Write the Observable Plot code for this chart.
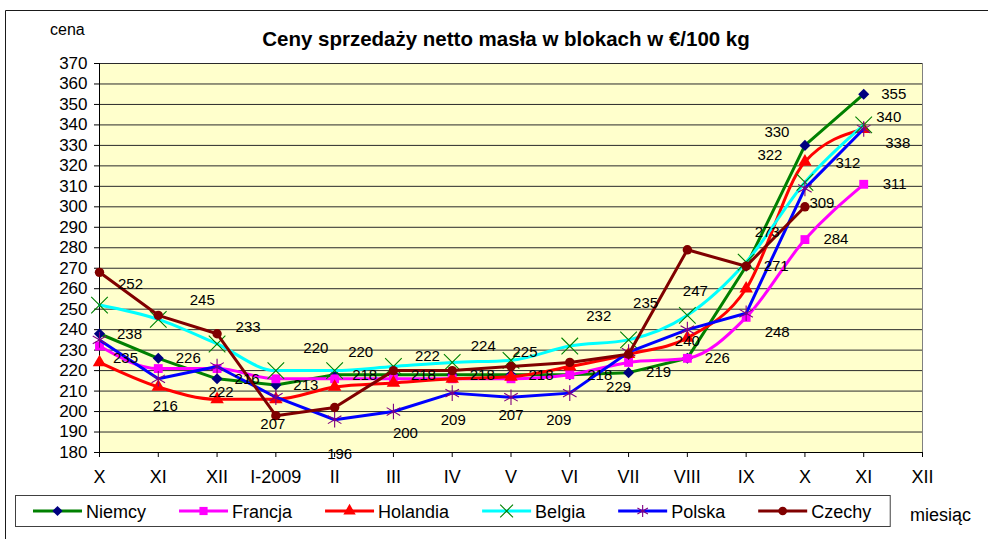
<!DOCTYPE html>
<html>
<head>
<meta charset="utf-8">
<script src="https://cdn.jsdelivr.net/npm/d3@7"></script>
<script src="https://cdn.jsdelivr.net/npm/@observablehq/plot@0.6"></script>
<style>
  body { margin: 0; background: #ffffff; }
  #chart svg { display: block; }
</style>
</head>
<body>
<div id="chart"></div>
<script>
// ---- data ----
const monthLabels = ["X", "XI", "XII", "I-2009", "II", "III", "IV", "V", "VI", "VII", "VIII", "IX", "X", "XI", "XII"];
const yTicks = [180, 190, 200, 210, 220, 230, 240, 250, 260, 270, 280, 290, 300, 310, 320, 330, 340, 350, 360, 370];

const niemcy   = [238, 226, 216, 213, 218, 218, 218, 218, 218, 219, 226, 271, 330, 355];
const francja  = [232, 221, 221, 216, 216, 216, 216, 216, 218, 224, 226, 246, 284, 311];
const holandia = [224, 212, 206, 206, 212, 214, 216, 217, 222, 228, 236, 260, 322, 338];
const belgia   = [252, 245, 233, 220, 220, 222, 224, 225, 232, 235, 247, 273, 312, 340];
const polska   = [235, 216, 222, 207, 196, 200, 209, 207, 209, 229, 240, 248, 309, 338];
const czechy   = [268, 247, 238, 198, 202, 220, 220, 222, 224, 228, 279, 271, 300];

const seriesNames = ["Niemcy", "Francja", "Holandia", "Belgia", "Polska", "Czechy"];
const seriesValues = [niemcy, francja, holandia, belgia, polska, czechy];
// which points carry a value label (indices into the month list)
const labelledPoints = {
  Niemcy: niemcy.map((_, i) => i),
  Belgia: belgia.map((_, i) => i),
  Polska: polska.map((_, i) => i),
  Francja: [12, 13],
  Holandia: [12]
};

// ---- styles ----
const FONT = "'Liberation Sans', Arial, sans-serif";
const style = {
  Niemcy:   {line: "#008000", symbol: "diamond2", r: 5.0, fill: "#000080", stroke: "none", curve: "linear"},
  Francja:  {line: "#FF00FF", symbol: "square",   r: 5.0, fill: "#FF00FF", stroke: "none", curve: "monotone-x"},
  Holandia: {line: "#FF0000", symbol: "triangle", r: 5.0, fill: "#FF0000", stroke: "none", curve: "monotone-x"},
  Belgia:   {line: "#00FFFF", symbol: "times",    r: 7.6, fill: "none", stroke: "#008000", curve: "monotone-x"},
  Polska:   {line: "#0000FF", symbol: "asterisk", r: 7.4, fill: "none", stroke: "#800080", curve: "linear"},
  Czechy:   {line: "#800000", symbol: "circle",   r: 4.7, fill: "#800000", stroke: "none", curve: "linear"}
};
// label placement relative to its point, in pixels [dx, dy]
const labelPlacement = {
  Niemcy: i => (i === 12 ? [-28, -13] : [30, 0]),
  Francja: () => [31, 0],
  Holandia: () => [-35, -7],
  Belgia: i => [[31,-21],[44,-19],[31,-17],[40,-22],[26,-18],[34,-10],[31,-16],[14,-8],[29,-30],[17,-37],[8,-24],[21,-30],[43,-19],[25,-8]][i],
  Polska: i => [[26,18],[7,27],[4,26],[-3,27],[5,34],[12,22],[1,27],[0,18],[-11,27],[-10,35],[0,12],[31,19],[17,15],[34,14]][i]
};

// ---- tables ----
const rows = seriesNames.flatMap((s, k) => seriesValues[k].map((v, i) => ({series: s, i, v})));
const labelRows = rows.filter(d => labelledPoints[d.series] && labelledPoints[d.series].includes(d.i));

const marks = [
  Plot.frame({fill: "#FFFFCC", stroke: "none"}),
  Plot.ruleY(yTicks, {y: d => d, stroke: "#2a2a2a", strokeWidth: 1}),
  Plot.ruleX([14], {stroke: "#808080", strokeWidth: 1}),
  Plot.ruleX([0], {stroke: "#000", strokeWidth: 1}),
  Plot.ruleY([180], {stroke: "#000", strokeWidth: 1}),
  Plot.axisY(yTicks, {tickSize: 5, tickPadding: 7, fontSize: 17, stroke: "#000", fill: "#000", label: null}),
  Plot.axisX(d3.range(monthLabels.length), {tickFormat: i => monthLabels[i], tickSize: 5, tickPadding: 13, fontSize: 18, stroke: "#000", fill: "#000", label: null})
];

for (const s of seriesNames) {
  const st = style[s];
  const data = rows.filter(d => d.series === s);
  marks.push(Plot.line(data, {x: "i", y: "v", stroke: st.line, strokeWidth: 3, curve: st.curve}));
  marks.push(Plot.dot(data, {x: "i", y: "v", symbol: st.symbol, r: st.r, fill: st.fill, stroke: st.stroke, strokeWidth: 1.1}));
}

for (const d of labelRows) {
  const [dx, dy] = labelPlacement[d.series](d.i);
  marks.push(Plot.text([d], {x: "i", y: "v", text: e => String(e.v), dx, dy, fontSize: 15, fill: "#000"}));
}

const chart = Plot.plot({
  width: 988,
  height: 539,
  marginLeft: 99,
  marginRight: 66,
  marginTop: 63,
  marginBottom: 87,
  style: {fontFamily: FONT, background: "#ffffff", color: "#000", overflow: "visible"},
  x: {type: "linear", domain: [0, 14], axis: null},
  y: {type: "linear", domain: [180, 370], axis: null},
  symbol: {type: "identity"},
  marks
});

document.getElementById("chart").appendChild(chart);

// ---- decorations: border, title, axis names, legend ----
const svg = d3.select(chart);
const deco = svg.append("g").attr("font-family", FONT).attr("fill", "#000").attr("text-anchor", "start");

deco.append("path").attr("d", "M5.5,539 V10.5 H988").attr("fill", "none").attr("stroke", "#1a1a1a").attr("stroke-width", 1);

deco.append("text").attr("x", 506).attr("y", 46).attr("text-anchor", "middle")
  .attr("font-size", 20.5).attr("font-weight", "bold")
  .text("Ceny sprzedaży netto masła w blokach w €/100 kg");

deco.append("text").attr("x", 50).attr("y", 35).attr("font-size", 16).text("cena");
deco.append("text").attr("x", 910).attr("y", 521).attr("font-size", 18).text("miesiąc");

const symMap = {diamond2: d3.symbolDiamond2, square: d3.symbolSquare, triangle: d3.symbolTriangle,
                times: d3.symbolTimes, asterisk: d3.symbolAsterisk, circle: d3.symbolCircle};
const legend = deco.append("g");
const legendY = 511;
let lx = 33;
for (const s of seriesNames) {
  const st = style[s];
  legend.append("line").attr("x1", lx).attr("x2", lx + 49).attr("y1", legendY).attr("y2", legendY)
    .attr("stroke", st.line).attr("stroke-width", 3);
  const size = Math.PI * st.r * st.r * (st.fill === "none" ? 0.6 : 0.85);
  legend.append("path").attr("d", d3.symbol(symMap[st.symbol], size)())
    .attr("transform", `translate(${lx + 24.5},${legendY})`)
    .attr("fill", st.fill).attr("stroke", st.stroke).attr("stroke-width", 1.1);
  const t = legend.append("text").attr("x", lx + 53).attr("y", legendY + 6.5).attr("font-size", 18).text(s);
  const w = t.node().getComputedTextLength();
  lx = lx + 53 + w + 33;
}
const legendRight = lx - 33 + 19;
legend.insert("rect", ":first-child").attr("x", 15.5).attr("y", 495.5).attr("width", legendRight - 15.5).attr("height", 31)
  .attr("fill", "#fff").attr("stroke", "#404040").attr("stroke-width", 1);
</script>
</body>
</html>
